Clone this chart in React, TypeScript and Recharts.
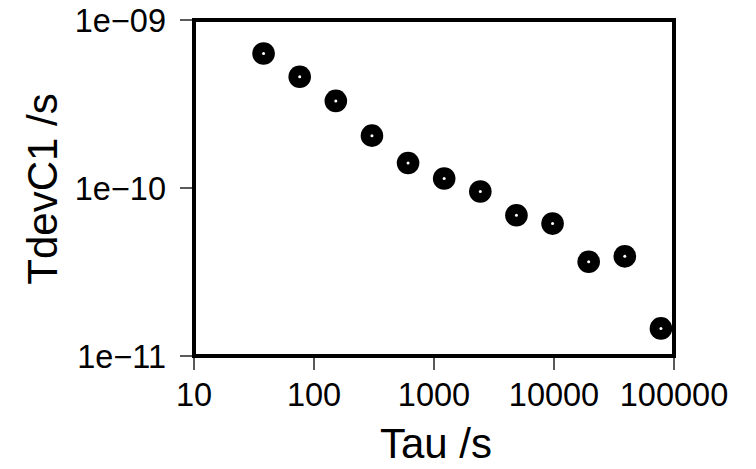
import React from 'react';
import { ScatterChart, Scatter, XAxis, YAxis, ReferenceArea } from 'recharts';

const tauValues = [38, 76, 152, 304, 608, 1216, 2432, 4864, 9728, 19456, 38912, 77824];
const tdevValues = [6.32e-10, 4.59e-10, 3.3e-10, 2.05e-10, 1.41e-10, 1.14e-10, 9.53e-11, 6.88e-11, 6.14e-11, 3.64e-11, 3.92e-11, 1.46e-11];
const xTicks = [10, 100, 1000, 10000, 100000];
const yTicks = [1e-11, 1e-10, 1e-9];
const yTickLabels = ['1e\u221211', '1e\u221210', '1e\u221209'];
const xTitle = 'Tau /s';
const yTitle = 'TdevC1 /s';

const data = tauValues.map((t, i) => ({ tau: t, tdev: tdevValues[i] }));

const FONT = '"Liberation Sans", Arial, Helvetica, sans-serif';

const Marker = (props: any) => {
  const { cx, cy } = props;
  if (cx == null || cy == null) return null;
  return (
    <g>
      <circle cx={cx} cy={cy} r={11.3} fill="#000" />
      <circle cx={cx} cy={cy} r={1.5} fill="#fff" />
    </g>
  );
};

const XTitle = (props: any) => {
  const vb = props.viewBox || {};
  return (
    <text x={vb.x + vb.width / 2 + 2} y={vb.y + 102} textAnchor="middle" fontFamily={FONT} fontSize={42} fill="#000">
      {xTitle}
    </text>
  );
};

const YTitle = (props: any) => {
  const vb = props.viewBox || {};
  const cx = vb.x + 57;
  const cy = vb.y + vb.height / 2 + 1;
  return (
    <text x={cx} y={cy} transform={`rotate(-90, ${cx}, ${cy})`} textAnchor="middle" fontFamily={FONT} fontSize={42} fill="#000">
      {yTitle}
    </text>
  );
};

const fmtY = (v: number) => {
  const idx = yTicks.findIndex((t) => Math.abs(Math.log10(t) - Math.log10(v)) < 1e-6);
  return idx >= 0 ? yTickLabels[idx] : String(v);
};

export default function App() {
  const tickStyle = { fontFamily: FONT, fontSize: 32.5, fill: '#000' };
  const tl = { stroke: '#000', strokeWidth: 1.3 };
  return (
    <div style={{ position: 'absolute', left: 0, top: 0, background: '#fff' }}>
      <ScatterChart width={756} height={469} margin={{ top: 0, right: 0, bottom: 0, left: 0 }}>
        <XAxis
          xAxisId="b"
          dataKey="tau"
          type="number"
          scale="log"
          domain={[10, 100000]}
          ticks={xTicks}
          allowDataOverflow
          orientation="bottom"
          height={113}
          axisLine={false}
          tickLine={tl}
          tickSize={14}
          tickMargin={13}
          tick={tickStyle}
          interval={0}
          label={<XTitle />}
        />
        <XAxis
          xAxisId="t"
          type="number"
          scale="log"
          domain={[10, 100000]}
          ticks={xTicks}
          allowDataOverflow
          orientation="top"
          height={20}
          axisLine={false}
          tickLine={tl}
          tickSize={14}
          tick={false}
          interval={0}
        />
        <YAxis
          yAxisId="l"
          dataKey="tdev"
          type="number"
          scale="log"
          domain={[1e-11, 1e-9]}
          ticks={yTicks}
          allowDataOverflow
          orientation="left"
          width={194}
          axisLine={false}
          tickLine={tl}
          tickSize={14}
          tickMargin={14}
          tick={tickStyle}
          tickFormatter={fmtY}
          interval={0}
          label={<YTitle />}
        />
        <YAxis
          yAxisId="r"
          type="number"
          scale="log"
          domain={[1e-11, 1e-9]}
          ticks={yTicks}
          allowDataOverflow
          orientation="right"
          width={82}
          axisLine={false}
          tickLine={tl}
          tickSize={14}
          tick={false}
          interval={0}
        />
        <ReferenceArea
          xAxisId="b"
          yAxisId="l"
          x1={10}
          x2={100000}
          y1={1e-11}
          y2={1e-9}
          fill="none"
          fillOpacity={0}
          stroke="#000"
          strokeWidth={4}
          ifOverflow="visible"
        />
        <Scatter
          xAxisId="b"
          yAxisId="l"
          data={data}
          shape={<Marker />}
          isAnimationActive={false}
        />
      </ScatterChart>
    </div>
  );
}
